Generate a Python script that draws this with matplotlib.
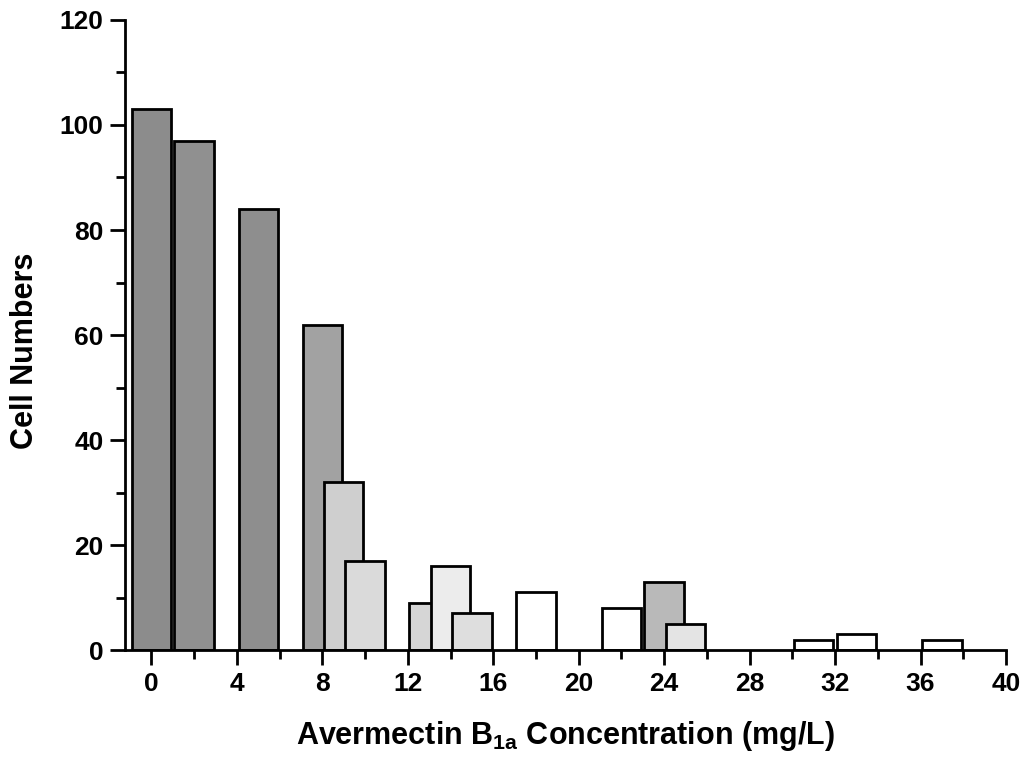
import numpy as np
import matplotlib.pyplot as plt
from matplotlib.ticker import MultipleLocator

plt.rcParams['font.family'] = ['Liberation Sans', 'DejaVu Sans']
plt.rcParams['font.weight'] = 'bold'
plt.rcParams['mathtext.fontset'] = 'custom'
plt.rcParams['mathtext.rm'] = 'Liberation Sans:bold'

# concentration (mg/L) and number of cells
konc = [0, 2, 5, 8, 9, 10, 13, 14, 15, 18, 22, 24, 25, 31, 33, 37]
broj = [103, 97, 84, 62, 32, 17, 9, 16, 7, 11, 8, 13, 5, 2, 3, 2]

# shading of each bar (stipple density)
sjena = ['#8c8c8c', '#909090', '#8e8e8e', '#a2a2a2', '#cfcfcf', '#dadada',
         '#d6d6d6', '#ececec', '#dedede', '#ffffff', '#ffffff', '#b9b9b9',
         '#e4e4e4', '#ffffff', '#ffffff', '#ffffff']
sirina = 1.85

fig = plt.figure(figsize=(10.26, 7.6), dpi=100)
ax = fig.add_axes([0.1218, 0.1447, 0.8587, 0.829])

for x, h, c in zip(konc, broj, sjena):
    ax.bar(x, h, width=sirina, color=c, edgecolor='black', linewidth=2.0,
           zorder=2)

ax.set_xlim(-1.24, 40)
ax.set_ylim(0, 120)
ax.xaxis.set_major_locator(MultipleLocator(4))
ax.xaxis.set_minor_locator(MultipleLocator(2))
ax.yaxis.set_major_locator(MultipleLocator(20))
ax.yaxis.set_minor_locator(MultipleLocator(10))

for s in ['top', 'right']:
    ax.spines[s].set_visible(False)
for s in ['left', 'bottom']:
    ax.spines[s].set_linewidth(2.0)

ax.tick_params(which='major', direction='out', length=10.5, width=2,
               labelsize=19, pad=5)
ax.tick_params(which='minor', direction='out', length=6.5, width=2)
for lab in ax.get_xticklabels() + ax.get_yticklabels():
    lab.set_fontweight('bold')

ax.set_xlabel(r'Avermectin B$_{\mathrm{1a}}$ Concentration (mg/L)',
              fontsize=22, fontweight='bold', labelpad=17)
ax.set_ylabel('Cell Numbers', fontsize=22, fontweight='bold')
ax.yaxis.set_label_coords(-0.097, 0.475)

fig.savefig('out.png', dpi=100)
